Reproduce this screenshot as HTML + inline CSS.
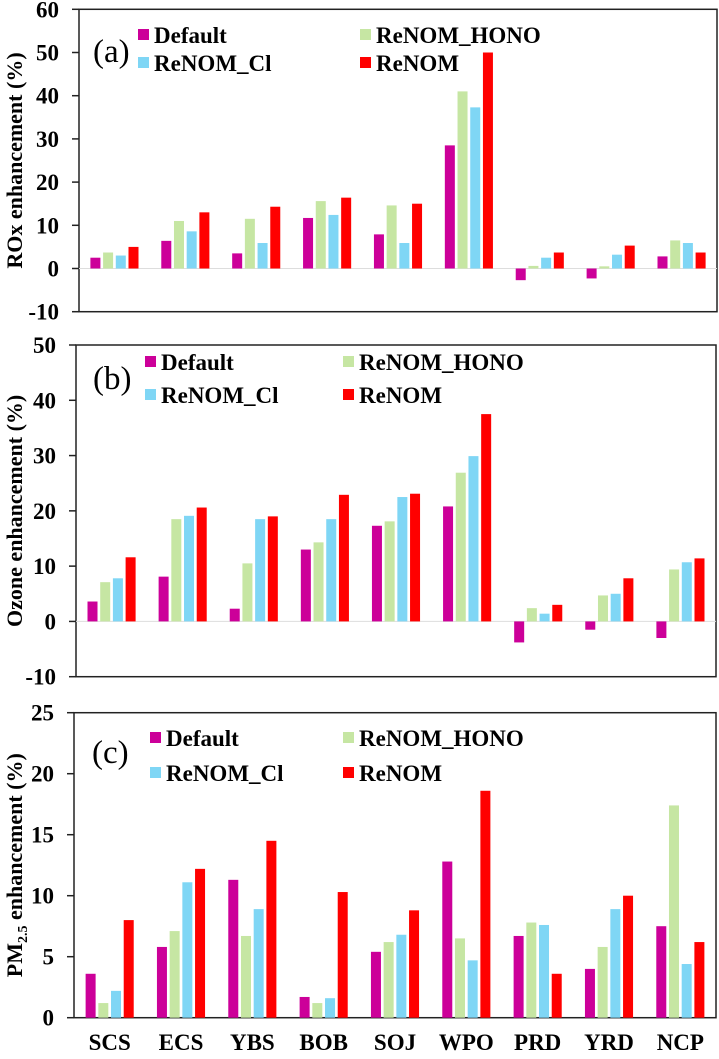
<!DOCTYPE html>
<html><head><meta charset="utf-8"><style>
body{margin:0;background:#fff}
svg text{font-family:"Liberation Serif",serif}
</style></head><body>
<svg id="c" width="719" height="1054"></svg>
<script>
const categories=["SCS","ECS","YBS","BOB","SOJ","WPO","PRD","YRD","NCP"];
const seriesNames=["Default","ReNOM_HONO","ReNOM_Cl","ReNOM"];
const colors=["#CC0099","#C6E6A3","#7FD6F5","#FF0000"];
const roxDefault=[2.5,6.4,3.5,11.7,7.9,28.5,-2.7,-2.3,2.8];
const roxHono=[3.7,11,11.5,15.6,14.6,41,0.6,0.5,6.5];
const roxCl=[3.0,8.6,5.9,12.4,5.9,37.3,2.5,3.2,5.9];
const roxRenom=[5.0,13,14.3,16.4,15,50,3.7,5.3,3.7];
const o3Default=[3.6,8.1,2.3,13,17.3,20.8,-3.8,-1.5,-3];
const o3Hono=[7.1,18.5,10.5,14.3,18.1,26.9,2.4,4.7,9.4];
const o3Cl=[7.8,19.1,18.5,18.5,22.5,29.9,1.4,5,10.7];
const o3Renom=[11.6,20.6,19,22.9,23.1,37.5,3,7.8,11.4];
const pmDefault=[3.6,5.8,11.3,1.7,5.4,12.8,6.7,4,7.5];
const pmHono=[1.2,7.1,6.7,1.2,6.2,6.5,7.8,5.8,17.4];
const pmCl=[2.2,11.1,8.9,1.6,6.8,4.7,7.6,8.9,4.4];
const pmRenom=[8,12.2,14.5,10.3,8.8,18.6,3.6,10,6.2];
const ticksA=[-10,0,10,20,30,40,50,60];
const ticksB=[-10,0,10,20,30,40,50];
const ticksC=[0,5,10,15,20,25];

const svg=document.getElementById('c');
const NS="http://www.w3.org/2000/svg";
function mk(t,a,p){const e=document.createElementNS(NS,t);for(const k in a)e.setAttribute(k,a[k]);(p||svg).appendChild(e);return e;}

const panels=[
 {id:'a',x0:79,x1:717,yTop:9.3,yBot:311.7,min:-10,max:60,ticks:ticksA,series:[roxDefault,roxHono,roxCl,roxRenom],title:'ROx enhancement (%)',lab:'(a)',labY:62,labX:93,leg:[138,360],legY:[35,63]},
 {id:'b',x0:76,x1:716,yTop:345,yBot:676.7,min:-10,max:50,ticks:ticksB,series:[o3Default,o3Hono,o3Cl,o3Renom],title:'Ozone enhancement (%)',lab:'(b)',labY:389,labX:93,leg:[145,343],legY:[362,395]},
 {id:'c',x0:74,x1:716,yTop:712.7,yBot:1017.7,min:0,max:25,ticks:ticksC,series:[pmDefault,pmHono,pmCl,pmRenom],title:'PM2.5',lab:'(c)',labY:763,labX:92,leg:[150,343],legY:[738,773]}
];

panels.forEach(p=>{
 const g=mk('g',{});
 
 
 const y=v=>p.yBot-(v-p.min)/(p.max-p.min)*(p.yBot-p.yTop);
 const gw=(p.x1-p.x0)/categories.length;
 const bw=10, pitch=12.7;
 const fr=mk('rect',{x:p.x0,y:p.yTop,width:p.x1-p.x0,height:p.yBot-p.yTop,fill:'none',stroke:'#222','stroke-width':1.5},g);
 
 
 if(p.min<0){const zl=mk('line',{x1:p.x0,x2:p.x1,y1:y(0),y2:y(0),stroke:'#ddd','stroke-width':1},g);
  }
 p.ticks.forEach(t=>{
  const tl=mk('line',{x1:p.x0-7,x2:p.x0,y1:y(t),y2:y(t),stroke:'#222','stroke-width':1.5},g);
  
  const tx=mk('text',{x:p.x0-20,y:y(t)+8,'text-anchor':'end','font-size':23,'font-weight':'bold'},g);
  tx.textContent=t;
  
 });
 p.series.forEach((s,si)=>{
  s.forEach((v,ci)=>{
   const cx=p.x0+gw*(ci+0.5);
   const bx=cx+(si-1.5)*pitch-bw/2;
   const r=mk('rect',{x:bx,y:Math.min(y(v),y(0)),width:bw,height:Math.abs(y(v)-y(0)),fill:colors[si]},g);
   
   
  });
 });
 seriesNames.forEach((n,si)=>{
  const lx=p.leg[si%2===0?0:1]; const ly=p.legY[si<2?0:1];
  const lg=mk('g',{},g);
  
  
  mk('rect',{x:lx,y:ly-6,width:11,height:11,fill:colors[si]},lg);
  const t=mk('text',{x:lx+16,y:ly+8,'font-size':23,'font-weight':'bold'},lg);
  t.textContent=n;
 });
 const lab=mk('text',{x:p.labX,y:p.labY,'font-size':33},g);
 lab.textContent=p.lab;
 
 const cy=(p.yTop+p.yBot)/2;
 const tt=mk('text',{x:0,y:0,'text-anchor':'middle','font-size':22,'font-weight':'bold',transform:`translate(22,${cy}) rotate(-90)`},g);
 if(p.id==='c'){tt.innerHTML='PM<tspan font-size="14" dy="5">2.5</tspan><tspan dy="-5"> enhancement (%)</tspan>';}
 else tt.textContent=p.title;
 
 if(p.id==='c'){
  categories.forEach((c,ci)=>{
   const t=mk('text',{x:p.x0+gw*(ci+0.5),y:1050,'text-anchor':'middle','font-size':23,'font-weight':'bold'},g);
   t.textContent=c;
   
  });
 }
});
</script>
</body></html>
